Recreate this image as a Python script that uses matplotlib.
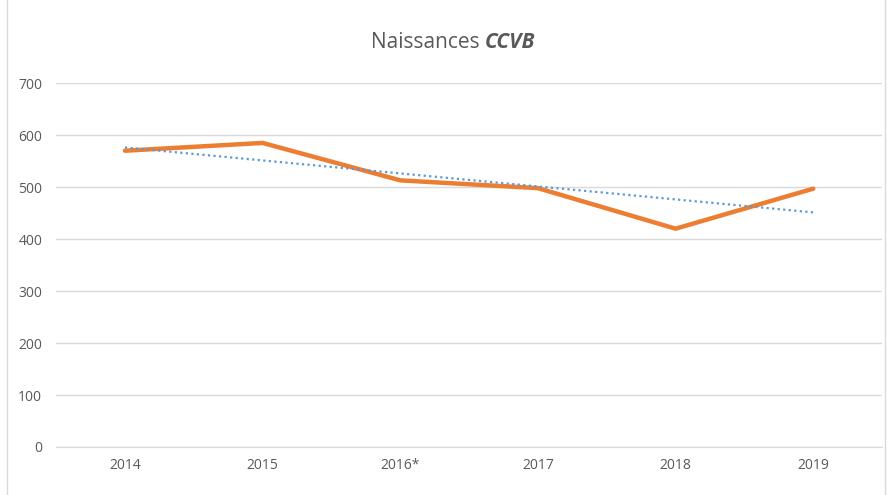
import numpy as np
import matplotlib.pyplot as plt
from matplotlib.patches import Rectangle

# données
annees = ["2014", "2015", "2016*", "2017", "2018", "2019"]
naissances = [570, 585, 513, 498, 420, 497]
y_ticks = [0, 100, 200, 300, 400, 500, 600, 700]

plt.rcParams['font.family'] = ['Open Sans', 'DejaVu Sans']

fig = plt.figure(figsize=(8.91, 4.95), dpi=100)
ax = fig.add_axes([0.063, 0.097, 0.927, 0.735])

x = np.arange(len(annees))
ax.plot(x, naissances, color='#ED7D31', lw=3.2, solid_capstyle='round', zorder=3)

# courbe de tendance linéaire
coef = np.polyfit(x, naissances, 1)
ax.plot(x, np.polyval(coef, x), color='#5B9BD5', lw=1.6, linestyle=(0, (1, 1.5)), zorder=4)

ax.set_xlim(-0.5, len(annees) - 0.5)
ax.set_ylim(0, 700)
ax.set_yticks(y_ticks)
ax.set_xticks(x)
ax.set_xticklabels(annees)
ax.grid(axis='y', color='#D9D9D9', lw=1)
ax.set_axisbelow(True)
for s in ax.spines.values():
    s.set_visible(False)
ax.spines['bottom'].set_visible(True)
ax.spines['bottom'].set_color('#D9D9D9')
ax.tick_params(length=0, colors='#595959', labelsize=10, pad=8)
ax.tick_params(axis='y', pad=10)

fig.text(0.544, 0.915, "Naissances ", ha='right', va='center', fontsize=15, color='#595959')
fig.text(0.544, 0.915, "CCVB", ha='left', va='center', fontsize=15, color='#595959',
         fontweight='bold', fontstyle='italic')

# cadre du graphique
fig.patches.append(Rectangle((0.008, -0.01), 0.985, 1.05, transform=fig.transFigure,
                             fill=False, edgecolor='#D9D9D9', lw=1))

fig.savefig('out.png', dpi=100)
